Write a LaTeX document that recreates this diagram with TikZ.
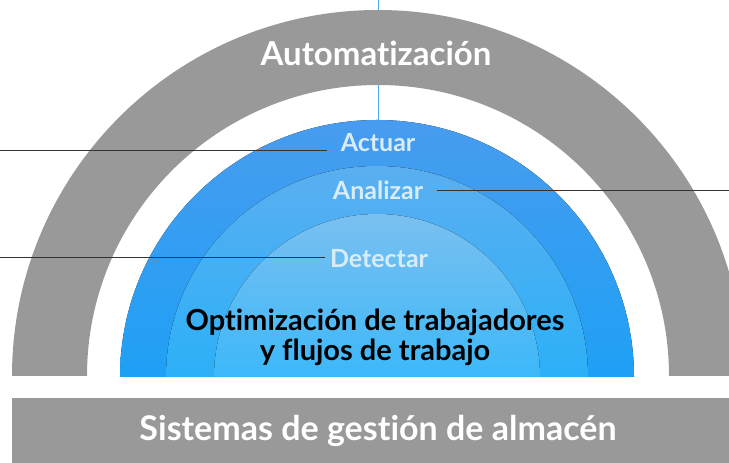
\documentclass[tikz,border=0pt]{standalone}
\usepackage{fontspec}
\setmainfont{Lato}[Ligatures=NoCommon]
\usetikzlibrary{positioning,calc}
\definecolor{archgray}{HTML}{999999}
\definecolor{leadline}{HTML}{333333}
\definecolor{stemblue}{HTML}{4AA8F0}
\definecolor{lbllight}{HTML}{D8ECFA}
\tikzset{archfill/.style={fill=archgray, draw=none}}
\tikzset{ringA/.style={top color={rgb,255:red,72;green,156;blue,239}, bottom color={rgb,255:red,30;green,160;blue,245}, draw=none}}
\tikzset{ringB/.style={top color={rgb,255:red,90;green,175;blue,240}, bottom color={rgb,255:red,44;green,176;blue,248}, draw=none}}
\tikzset{ringC/.style={top color={rgb,255:red,122;green,192;blue,240}, bottom color={rgb,255:red,60;green,184;blue,249}, draw=none}}
\tikzset{bigtxt/.style={text=white, font=\fontsize{33}{35}\selectfont\bfseries, inner sep=0pt}}
\tikzset{lbl/.style={text=lbllight, font=\fontsize{25}{27}\selectfont\bfseries, inner sep=0pt, outer sep=0pt}}
\tikzset{coretxt/.style={text=black, font=\fontsize{29}{30}\selectfont\bfseries, align=center, inner sep=0pt}}
\tikzset{lead/.style={draw=leadline, line width=0.9pt}}

\begin{document}
\begin{tikzpicture}[x=1pt, y=1pt]
	\useasboundingbox (0,0) rectangle (729,463);
	% stem from the top
	\coordinate (stemtop) at (378,463);
	\coordinate (ringtop) at (378,343);
	\draw[stemblue, line width=0.8pt] (stemtop) -- (ringtop);
	% grey arch
	\fill[archfill] (12,87) arc[start angle=180, end angle=0, radius=366]
		-- (669,87) arc[start angle=0, end angle=180, radius=291] -- cycle;
	\node[bigtxt] (auto) at (376,410) {Automatización};
	% blue rings
	\fill[ringA] (120,86) arc[start angle=180, end angle=0, radius=257] -- cycle;
	\fill[ringB] (166,86) arc[start angle=180, end angle=0, radius=211] -- cycle;
	\fill[ringC] (214,86) arc[start angle=180, end angle=0, radius=163] -- cycle;
	\node[lbl] (actuar) at (378,320) {Actuar};
	\node[lbl] (analizar) at (378,273) {Analizar};
	\node[lbl] (detectar) at (379,204) {Detectar};
	\node[coretxt] (core) at (375,126) {Optimización de trabajadores\\y flujos de trabajo};
	% base bar
	\fill[archfill] (12,0) rectangle (729,65);
	\node[bigtxt] (wms) at (378,32) {\fontsize{34}{36}\selectfont Sistemas de gestión de almacén};
	% leader lines
	\coordinate (actL) at (0,313);
	\coordinate (anaR) at (729,273);
	\coordinate (detL) at (0,206);
	\draw[lead] (actL) -- ([xshift=-14pt]actuar.west |- actL);
	\draw[lead] (anaR) -- ([xshift=14pt]analizar.east |- anaR);
	\draw[lead] (detL) -- ([xshift=-5pt]detectar.west |- detL);
\end{tikzpicture}
\end{document}
